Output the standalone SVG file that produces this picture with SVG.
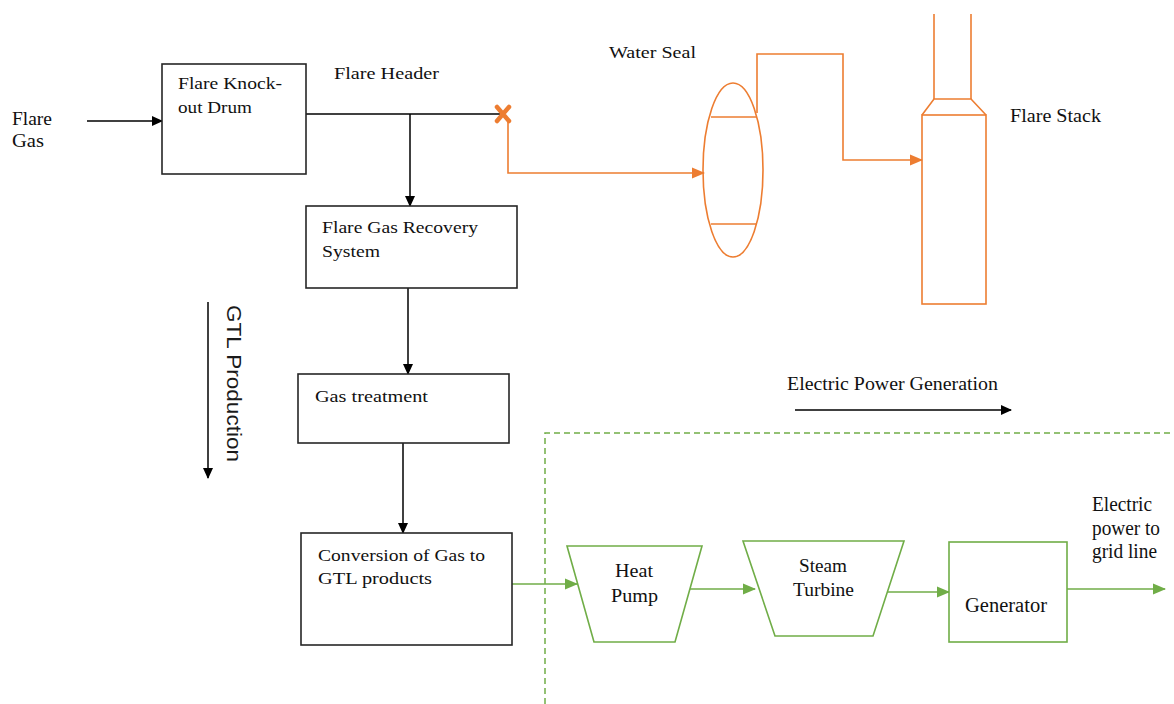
<svg xmlns="http://www.w3.org/2000/svg" width="1174" height="704" viewBox="0 0 1174 704">
<style>
.t{fill:#111}
.box{fill:#fff;stroke:#262626;stroke-width:1.6}
.ob{fill:none;stroke:#ED7D31;stroke-width:1.6}
.gb{fill:#fff;stroke:#70AD47;stroke-width:1.6}
.k{fill:none;stroke:#000;stroke-width:1.5}
.o{fill:none;stroke:#ED7D31;stroke-width:1.6}
.g{fill:none;stroke:#70AD47;stroke-width:1.6}
</style>
<defs>
<marker id="ak" markerWidth="11" markerHeight="11" refX="10" refY="5.5" orient="auto" markerUnits="userSpaceOnUse"><path d="M0,0.5 L11,5.5 L0,10.5 Z" fill="#000"/></marker>
<marker id="ao" markerWidth="13" markerHeight="13" refX="12" refY="6.5" orient="auto" markerUnits="userSpaceOnUse"><path d="M0,1 L13,6.5 L0,12 Z" fill="#ED7D31"/></marker>
<marker id="ag" markerWidth="13" markerHeight="13" refX="12" refY="6.5" orient="auto" markerUnits="userSpaceOnUse"><path d="M0,1 L13,6.5 L0,12 Z" fill="#70AD47"/></marker>
</defs>
<rect width="1174" height="704" fill="#fff"/>

<g id="connectors">
<line class="k" x1="87" y1="121" x2="162" y2="121" marker-end="url(#ak)"/>
<line class="k" x1="306" y1="114" x2="500" y2="114"/>
<line class="k" x1="410" y1="114" x2="410" y2="206" marker-end="url(#ak)"/>
<line class="k" x1="408" y1="288" x2="408" y2="374" marker-end="url(#ak)"/>
<line class="k" x1="403" y1="443" x2="403" y2="533" marker-end="url(#ak)"/>
<line class="k" x1="208" y1="302" x2="208" y2="478" marker-end="url(#ak)"/>
<line class="k" x1="795" y1="410" x2="1011" y2="410" marker-end="url(#ak)"/>
<polyline class="o" points="508,119 508,173 704,173" marker-end="url(#ao)"/>
<polyline class="o" points="757,113 757,54 843,54 843,160 922,160" marker-end="url(#ao)"/>
<line class="g" x1="512" y1="584" x2="577" y2="584" marker-end="url(#ag)"/>
<line class="g" x1="690" y1="589" x2="755" y2="589" marker-end="url(#ag)"/>
<line class="g" x1="887" y1="592" x2="949" y2="592" marker-end="url(#ag)"/>
<line class="g" x1="1067" y1="589" x2="1165" y2="589" marker-end="url(#ag)"/>
<polyline fill="none" stroke="#70AD47" stroke-width="1.5" stroke-dasharray="6,4" points="545,704 545,433 1174,433"/>
</g>

<g id="valve">
<path d="M497,107 L509,121 M509,107 L497,121" stroke="#ED7D31" stroke-width="4.5" stroke-linecap="round"/>
</g>

<g font-family="'Liberation Serif', 'Times New Roman', serif">
<g id="flare-gas-label">
<text class="t" font-size="19" x="12" y="125" textLength="40" lengthAdjust="spacingAndGlyphs">Flare</text>
<text class="t" font-size="19" x="12" y="147" textLength="32" lengthAdjust="spacingAndGlyphs">Gas</text>
</g>

<g id="knockout-drum">
<rect class="box" x="162" y="64" width="144" height="110"/>
<text class="t" font-size="16.5" x="178" y="89" textLength="104" lengthAdjust="spacingAndGlyphs">Flare Knock-</text>
<text class="t" font-size="16.5" x="178" y="113" textLength="74" lengthAdjust="spacingAndGlyphs">out Drum</text>
</g>

<g id="flare-header-label">
<text class="t" font-size="17.5" x="334" y="79" textLength="105" lengthAdjust="spacingAndGlyphs">Flare Header</text>
</g>

<g id="water-seal">
<ellipse class="ob" cx="733" cy="170" rx="30" ry="87"/>
<line class="o" x1="711" y1="117" x2="757" y2="117"/>
<line class="o" x1="711" y1="224" x2="757" y2="224"/>
<text class="t" font-size="17.5" x="609" y="58" textLength="87" lengthAdjust="spacingAndGlyphs">Water Seal</text>
</g>

<g id="flare-stack">
<rect class="ob" x="922" y="115" width="64" height="189"/>
<polyline class="o" points="922,115 934,99 971,99 986,115"/>
<line class="o" x1="934" y1="14" x2="934" y2="99"/>
<line class="o" x1="971" y1="14" x2="971" y2="99"/>
<text class="t" font-size="18.5" x="1010" y="122" textLength="91" lengthAdjust="spacingAndGlyphs">Flare Stack</text>
</g>

<g id="recovery-system">
<rect class="box" x="306" y="206" width="211" height="82"/>
<text class="t" font-size="17.5" x="322" y="233" textLength="156" lengthAdjust="spacingAndGlyphs">Flare Gas Recovery</text>
<text class="t" font-size="17.5" x="322" y="257" textLength="58" lengthAdjust="spacingAndGlyphs">System</text>
</g>

<g id="gas-treatment">
<rect class="box" x="298" y="374" width="211" height="69"/>
<text class="t" font-size="17.5" x="315" y="402" textLength="113" lengthAdjust="spacingAndGlyphs">Gas treatment</text>
</g>

<g id="conversion">
<rect class="box" x="301" y="533" width="211" height="112"/>
<text class="t" font-size="17.5" x="318" y="561" textLength="167" lengthAdjust="spacingAndGlyphs">Conversion of Gas to</text>
<text class="t" font-size="17.5" x="318" y="584" textLength="114" lengthAdjust="spacingAndGlyphs">GTL products</text>
</g>

<g id="epg-label">
<text class="t" font-size="19" x="787" y="390" textLength="211" lengthAdjust="spacingAndGlyphs">Electric Power Generation</text>
</g>

<g id="heat-pump">
<polygon class="gb" points="567,546 702,546 675,642 594,642"/>
<text class="t" font-size="19" x="615" y="577" textLength="38" lengthAdjust="spacingAndGlyphs">Heat</text>
<text class="t" font-size="19" x="611" y="602" textLength="47" lengthAdjust="spacingAndGlyphs">Pump</text>
</g>

<g id="steam-turbine">
<polygon class="gb" points="743,541 904,541 873,636 775,636"/>
<text class="t" font-size="19" x="799" y="572" textLength="48" lengthAdjust="spacingAndGlyphs">Steam</text>
<text class="t" font-size="19" x="793" y="596" textLength="61" lengthAdjust="spacingAndGlyphs">Turbine</text>
</g>

<g id="generator">
<rect class="gb" x="949" y="542" width="118" height="100"/>
<text class="t" font-size="20" x="965" y="612" textLength="82" lengthAdjust="spacingAndGlyphs">Generator</text>
</g>

<g id="output-label">
<text class="t" font-size="20" x="1092" y="511" textLength="60" lengthAdjust="spacingAndGlyphs">Electric</text>
<text class="t" font-size="20" x="1092" y="535" textLength="68" lengthAdjust="spacingAndGlyphs">power to</text>
<text class="t" font-size="20" x="1092" y="558" textLength="65" lengthAdjust="spacingAndGlyphs">grid line</text>
</g>
</g>

<g id="gtl-label">
<text font-family="'Liberation Sans', Arial, sans-serif" font-size="21" fill="#1a1a1a" transform="translate(227,305) rotate(90)" textLength="157" lengthAdjust="spacingAndGlyphs">GTL Production</text>
</g>
</svg>
